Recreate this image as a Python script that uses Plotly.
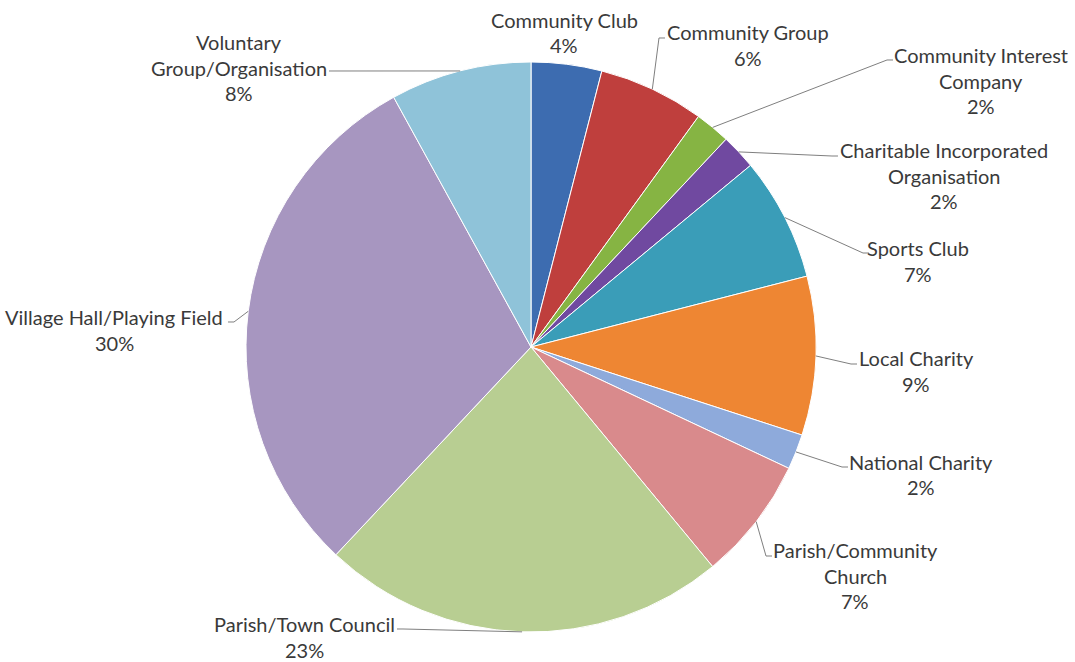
import math
import plotly.graph_objects as go

# Organisation types and their share of applications (%)
categories = [
    "Community Club",
    "Community Group",
    "Community Interest Company",
    "Charitable Incorporated Organisation",
    "Sports Club",
    "Local Charity",
    "National Charity",
    "Parish/Community Church",
    "Parish/Town Council",
    "Village Hall/Playing Field",
    "Voluntary Group/Organisation",
]
shares = [4, 6, 2, 2, 7, 9, 2, 7, 23, 30, 8]

# Wrapped label text for each slice
label_lines = [
    ["Community Club"],
    ["Community Group"],
    ["Community Interest", "Company"],
    ["Charitable Incorporated", "Organisation"],
    ["Sports Club"],
    ["Local Charity"],
    ["National Charity"],
    ["Parish/Community", "Church"],
    ["Parish/Town Council"],
    ["Village Hall/Playing Field"],
    ["Voluntary", "Group/Organisation"],
]

colors = [
    "#3D6CB0", "#BF3F3D", "#86B443", "#7049A0", "#3A9DB8", "#EE8633",
    "#8EAADB", "#D98A8C", "#B8CE92", "#A796C0", "#8FC3D9",
]

# Page geometry (pixels)
W, H = 1075, 662
CX, CY, R = 531, 347, 285

# Label placement: text centre x, first line y, leader start (x, y) or None
label_pos = [
    (564, 20, None),
    (748, 32, (665, 38)),
    (981, 55, (893, 60)),
    (944, 150, (838, 156)),
    (918, 248, (869, 253)),
    (916, 358, (857, 364)),
    (921, 462, (848, 467)),
    (855, 550, (772, 556)),
    (304, 624, (397, 629)),
    (114, 317, (228, 322)),
    (239, 42, (329, 71)),
]
LINE_GAP = 25.5
FONT = "Lato"
FONT_SIZE = 20
TEXT_COLOR = "#3A3A3A"
LEADER_COLOR = "#7F7F7F"


def px(x, y):
    return x / W, 1 - y / H


fig = go.Figure(
    go.Pie(
        values=shares,
        labels=categories,
        sort=False,
        direction="clockwise",
        rotation=0,
        textinfo="none",
        marker=dict(colors=colors, line=dict(color="white", width=1)),
        domain=dict(
            x=[(CX - R) / W, (CX + R) / W],
            y=[1 - (CY + R) / H, 1 - (CY - R) / H],
        ),
        showlegend=False,
    )
)

total = sum(shares)
annotations = []
shapes = []
cum = 0.0
for value, lines, (tx, ty, anchor) in zip(shares, label_lines, label_pos):
    mid = (cum + value / 2) / total * 2 * math.pi
    cum += value
    pct = f"{round(value / total * 100)}%"
    for i, text in enumerate(lines + [pct]):
        ax, ay = px(tx, ty + i * LINE_GAP)
        annotations.append(
            dict(
                x=ax, y=ay, xref="paper", yref="paper", text=text,
                showarrow=False, xanchor="center", yanchor="middle",
                font=dict(family=FONT, size=FONT_SIZE, color=TEXT_COLOR),
            )
        )
    if anchor is not None:
        # leader runs from the label to the outer edge at the slice mid-angle
        ex = CX + R * math.sin(mid)
        ey = CY - R * math.cos(mid)
        sx, sy = anchor
        elbow_x = sx - 6 if sx > CX else sx + 6
        pts = [px(sx, sy), px(elbow_x, sy), px(ex, ey)]
        path = "M " + " L ".join(f"{a:.5f},{b:.5f}" for a, b in pts)
        shapes.append(
            dict(type="path", path=path, xref="paper", yref="paper",
                 line=dict(color=LEADER_COLOR, width=1))
        )

fig.update_layout(
    width=W,
    height=H,
    margin=dict(l=0, r=0, t=0, b=0),
    paper_bgcolor="white",
    plot_bgcolor="white",
    annotations=annotations,
    shapes=shapes,
)

fig.write_html("out.html")
